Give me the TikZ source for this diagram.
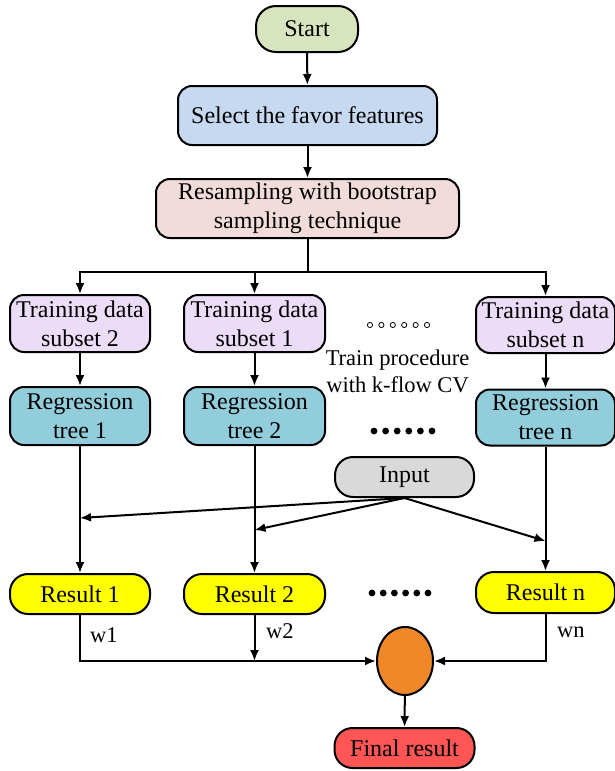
\documentclass[tikz,border=0pt]{standalone}
\usepackage{fontspec}
\setmainfont{Liberation Serif}
\usetikzlibrary{arrows.meta,shapes.geometric}

\definecolor{cstart}{HTML}{D7E4BD}
\definecolor{cselect}{HTML}{C6D9F1}
\definecolor{cresamp}{HTML}{F2DCDB}
\definecolor{ctrain}{HTML}{EBDCF7}
\definecolor{ctree}{HTML}{92CDDC}
\definecolor{cinput}{HTML}{D9D9D9}
\definecolor{cresult}{HTML}{FFFF00}
\definecolor{cmerge}{HTML}{F0882A}
\definecolor{cfinal}{HTML}{FF5555}

\tikzset{
  box/.style={draw=black, line width=2pt, rounded corners=14pt, align=center,
    font=\fontsize{24}{29}\selectfont, inner sep=1pt},
  arr/.style={line width=2pt, -{Latex[length=11pt,width=9pt]}},
  ln/.style={line width=2pt},
  lbl/.style={font=\fontsize{22.5}{27}\selectfont, inner sep=0pt},
}

\begin{document}
\begin{tikzpicture}[x=1pt,y=-1pt]
\useasboundingbox (0,0) rectangle (614,771);

% top chain
\node[box, fill=cstart, minimum width=102pt, minimum height=46pt, rounded corners=20pt] (start) at (307,29) {Start};
\node[box, fill=cselect, minimum width=259pt, minimum height=59pt] (sel) at (307.5,115.5) {Select the favor features};
\node[box, fill=cresamp, minimum width=303pt, minimum height=59pt] (res) at (307.5,208.5) {Resampling with bootstrap\\sampling technique};

% training subsets
\node[box, fill=ctrain, minimum width=140pt, minimum height=57pt] (td2) at (80,323.5) {Training data\\subset 2};
\node[box, fill=ctrain, minimum width=141pt, minimum height=57pt] (td1) at (254.5,323.5) {Training data\\subset 1};
\node[box, fill=ctrain, minimum width=139pt, minimum height=56pt] (tdn) at (545.5,325) {Training data\\subset n};

% regression trees
\node[box, fill=ctree, minimum width=140pt, minimum height=58pt] (rt1) at (80,416) {Regression\\tree 1};
\node[box, fill=ctree, minimum width=141pt, minimum height=58pt] (rt2) at (254.5,416) {Regression\\tree 2};
\node[box, fill=ctree, minimum width=139pt, minimum height=56pt] (rtn) at (545.5,417.5) {Regression\\tree n};

% input
\node[box, fill=cinput, minimum width=139pt, minimum height=40pt, rounded corners=18pt] (inp) at (404.5,477) {Input};

% results
\node[box, fill=cresult, minimum width=140pt, minimum height=40pt, rounded corners=18pt] (r1) at (80,594) {Result 1};
\node[box, fill=cresult, minimum width=141pt, minimum height=40pt, rounded corners=18pt] (r2) at (254.5,594) {Result 2};
\node[box, fill=cresult, minimum width=139pt, minimum height=41pt, rounded corners=18pt] (rn) at (545.5,592.5) {Result n};

% merging node and final result
\node[ellipse, draw=black, line width=2pt, fill=cmerge, minimum width=56pt, minimum height=68pt, inner sep=0pt] (mix) at (405,661) {};
\node[box, fill=cfinal, minimum width=140pt, minimum height=40pt, rounded corners=18pt] (fin) at (404.5,748) {Final result};

% side texts
\node[lbl, align=center] (proc) at (397.5,371) {Train procedure\\with k-flow CV};
\node[lbl, anchor=west] (w1) at (90,635) {w1};
\node[lbl, anchor=west] (w2) at (266,631) {w2};
\node[lbl, anchor=west] (wn) at (557,632) {wn};

% ellipsis marks
\foreach \i in {0,...,5} {
  \draw[line width=0.8pt] (370+\i*11.4,325) circle (2.6pt);
  \fill (374+\i*11.6,431) circle (3.4pt);
  \fill (372+\i*11.2,593) circle (3.4pt);
}

% connectors
\draw[arr] (start) -- (sel);
\draw[arr] (sel) -- (res);
\draw[ln] (res.south) -- (res.south |- 0,272) coordinate (split);
\draw[arr] (split) -| (td2.north);
\draw[arr] (split) -| (td1.north);
\draw[arr] (split) -| (tdn.north);

\draw[arr] (td2) -- (rt1);
\draw[arr] (td1) -- (rt2);
\draw[arr] (tdn.south) -- (rtn.north -| tdn.south);

\draw[arr] (rt1) -- (r1);
\draw[arr] (rt2) -- (r2);
\draw[arr] (rtn.south) -- (rn.north -| rtn.south);

\coordinate (j1) at (80,518);
\coordinate (j2) at (254.5,530);
\coordinate (jn) at (545.5,541);
\draw[arr] (inp.south) -- (j1);
\draw[arr] (inp.south) -- (j2);
\draw[arr] (inp.south) -- (jn);

\draw[arr] (r1.south) |- (mix.west);
\draw[arr] (r2.south) -- (r2.south |- mix.west);
\draw[arr] (rn.south) |- (mix.east);
\draw[arr] (mix) -- (fin);
\end{tikzpicture}
\end{document}
